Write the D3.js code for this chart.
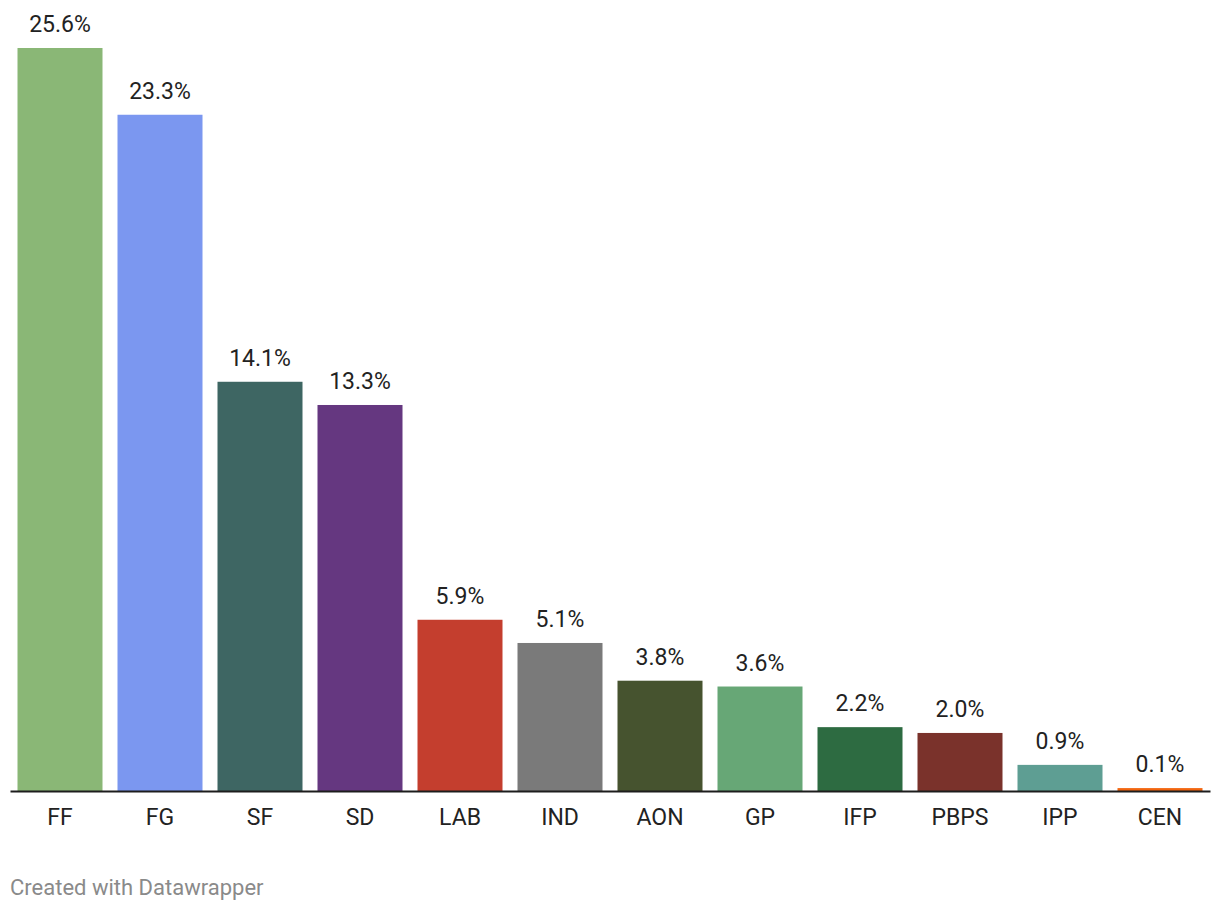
<!DOCTYPE html>
<html>
<head>
<meta charset="utf-8">
<script src="https://cdn.jsdelivr.net/npm/d3@7"></script>
<style>
  html, body { margin: 0; padding: 0; background: #fff; }
  svg { display: block; }
  text { font-family: Roboto, "Noto Sans", sans-serif; }
</style>
</head>
<body>
<svg id="chart" width="1220" height="912"></svg>
<script>
const parties = ["FF", "FG", "SF", "SD", "LAB", "IND", "AON", "GP", "IFP", "PBPS", "IPP", "CEN"];
const shares = [25.6, 23.3, 14.1, 13.3, 5.9, 5.1, 3.8, 3.6, 2.2, 2.0, 0.9, 0.1];
const colors = ["#8ab776", "#7b97f0", "#3e6663", "#653780", "#c43e2e", "#7a7a7a", "#46532f", "#67a776", "#2d6b41", "#7a322b", "#5e9e93", "#f2650f"];
const footer = "Created with Datawrapper";

const data = parties.map((p, i) => ({ party: p, value: shares[i], color: colors[i] }));

const svg = d3.select("#chart");
const baseline = 791;

const x = d3.scaleBand()
  .domain(parties)
  .range([10, 1210])
  .paddingInner(0.15)
  .paddingOuter(0.075);

const y = d3.scaleLinear()
  .domain([0, 25.6])
  .range([baseline, 48]);

svg.append("g")
  .selectAll("rect")
  .data(data)
  .join("rect")
  .attr("x", d => x(d.party))
  .attr("width", x.bandwidth())
  .attr("y", d => y(d.value))
  .attr("height", d => Math.max(0, y(0) - y(d.value)))
  .attr("fill", d => d.color);

svg.append("g")
  .selectAll("text")
  .data(data)
  .join("text")
  .attr("x", d => x(d.party) + x.bandwidth() / 2)
  .attr("y", d => y(d.value) - 16)
  .attr("text-anchor", "middle")
  .attr("font-size", 23)
  .attr("fill", "#222")
  .text(d => d.value.toFixed(1) + "%");

const axis = d3.axisBottom(x).tickSize(0).tickPadding(0);
const ag = svg.append("g").attr("transform", `translate(0,${baseline})`).call(axis);
ag.select(".domain").attr("stroke", "#1d1d1d").attr("stroke-width", 2);
ag.selectAll(".tick text")
  .attr("font-size", 23)
  .attr("font-family", "Roboto, sans-serif")
  .attr("fill", "#222")
  .attr("dy", null)
  .attr("y", 34);

svg.append("text")
  .attr("x", 10)
  .attr("y", 895)
  .attr("font-size", 22)
  .attr("fill", "#8a8a8a")
  .text(footer);
</script>
</body>
</html>
